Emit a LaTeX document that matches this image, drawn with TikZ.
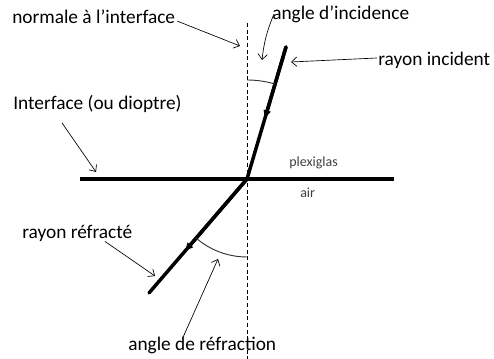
\documentclass[tikz,border=0pt]{standalone}
\usepackage{fontspec}
\setmainfont{Carlito}
\usetikzlibrary{arrows.meta,calc}
\definecolor{mediumgray}{RGB}{64,64,64}
\tikzset{
  ray/.style={
    line width=2.6pt,
    line cap=round
  },
  boundary/.style={line width=2.6pt},
  normal-line/.style={
    line width=0.6pt,
    dash pattern=on 3pt off 2pt
  },
  anglearc/.style={line width=0.7pt, draw=black!80},
  pointer/.style={
    line width=0.5pt,
    -{Straight Barb[length=4pt,width=7pt]}
  },
  label/.style={anchor=west, inner sep=0pt, font=\fontsize{14.5}{16}\selectfont},
  medium/.style={anchor=west, inner sep=0pt, text=mediumgray,
    font=\fontsize{10.5}{12}\selectfont}
}

\begin{document}
\begin{tikzpicture}[x=0.75pt,y=0.75pt]
  \useasboundingbox (0,0) rectangle (494,359);
  % geometry
  \coordinate (I) at (247,180);
  \coordinate (src) at (286,312);
  \coordinate (out) at (149,66);
  \coordinate (ntop) at (247,336);
  \coordinate (nbot) at (247,0);
  \coordinate (ifl) at (80,180);
  \coordinate (ifr) at (394,180);

  \draw[normal-line] (ntop) -- (nbot);
  \draw[boundary] (ifl) -- (ifr);
  \draw[ray] (src) -- (I) -- (out);
  \draw[ray, -{Latex[length=7pt,width=6pt]}] (src) -- ($(src)!0.55!(I)$);
  \draw[ray, -{Latex[length=7pt,width=6pt]}] (I) -- ($(I)!0.64!(out)$);

  % angles
  \draw[anglearc] ($(I)+(0,99)$) arc (90:73.5:99);
  \draw[anglearc] ($(I)+(0,-78)$) arc (270:229.3:78);

  % labels
  \node[label] (normale) at (12,342) {normale à l’interface};
  \node[label] (incidence) at (272,345) {angle d’incidence};
  \node[label] (incident) at (378,299) {rayon incident};
  \node[label] (dioptre) at (13,255) {Interface (ou dioptre)};
  \node[medium] (plexi) at (289,196) {plexiglas};
  \node[medium] (air) at (300,166) {air};
  \node[label] (refracte) at (22,126) {rayon réfracté};
  \node[label] (refraction) at (128,14) {angle de réfraction};

  % pointer tips
  \coordinate (pNormale) at (240,313);
  \coordinate (pIncidence) at (262,299);
  \coordinate (pIncident) at (291,297);
  \coordinate (pDioptre) at (96,187);
  \coordinate (pRefracte) at (155,83);
  \coordinate (pRefraction) at (218,100);

  \draw[pointer] ($(normale.south east)+(2,3)$) -- (pNormale);
  \draw[pointer] ($(incidence.west)+(2,0)$) to[bend right=8] (pIncidence);
  \draw[pointer] ($(incident.west)+(-1,2)$) -- (pIncident);
  \draw[pointer] ($(dioptre.south west)+(49,-10)$) -- (pDioptre);
  \draw[pointer] ($(refracte.south west)+(83,0)$) -- (pRefracte);
  \draw[pointer] ($(refraction.north west)+(55,-1)$) -- (pRefraction);
\end{tikzpicture}
\end{document}
